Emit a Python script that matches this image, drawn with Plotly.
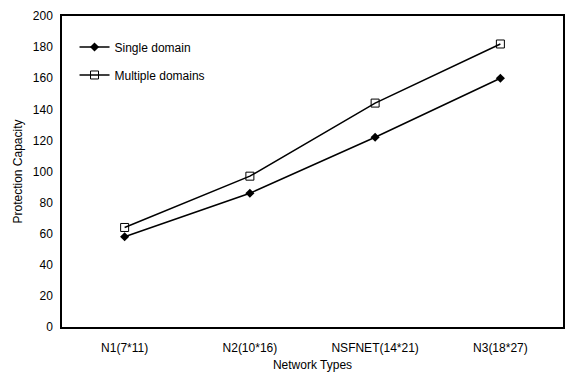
import plotly.graph_objects as go

categories = ["N1(7*11)", "N2(10*16)", "NSFNET(14*21)", "N3(18*27)"]
single_domain = [58, 86, 122, 160]
multiple_domains = [64, 97, 144, 182]
y_ticks = [0, 20, 40, 60, 80, 100, 120, 140, 160, 180, 200]

fig = go.Figure()
fig.add_trace(go.Scatter(
    x=categories, y=single_domain, name="Single domain", mode="lines+markers",
    legendgroup="a",
    line=dict(color="black", width=1.5),
    marker=dict(symbol="diamond", size=7, color="black"),
))
fig.add_trace(go.Scatter(
    x=categories, y=multiple_domains, name="Multiple domains", mode="lines+markers",
    legendgroup="b",
    line=dict(color="black", width=1.5),
    marker=dict(symbol="square-open", size=8, color="black", line=dict(width=1)),
))

fig.update_layout(
    width=574, height=379,
    margin=dict(l=62, r=9, t=13, b=51),
    paper_bgcolor="white", plot_bgcolor="white",
    font=dict(family="Liberation Sans, Arial, sans-serif", size=12, color="black"),
    showlegend=True,
    legend=dict(x=0.025, y=0.947, xanchor="left", yanchor="top",
                bgcolor="rgba(0,0,0,0)", font=dict(size=12),
                tracegroupgap=9, itemwidth=30),
    xaxis=dict(
        type="category", range=[-0.5, 3.5],
        showline=True, linecolor="black", linewidth=1.5, mirror=True,
        showgrid=False, zeroline=False, ticks="",
        ticklabelstandoff=9,
        title=dict(text="Network Types", font=dict(size=12), standoff=6),
        tickfont=dict(size=12),
    ),
    yaxis=dict(
        range=[0, 200], tickvals=y_ticks,
        showline=True, linecolor="black", linewidth=1.5, mirror=True,
        showgrid=False, zeroline=False, ticks="",
        ticklabelstandoff=5,
        title=dict(text="Protection Capacity", font=dict(size=12), standoff=8),
        tickfont=dict(size=12),
    ),
)

fig.write_html("out.html")
